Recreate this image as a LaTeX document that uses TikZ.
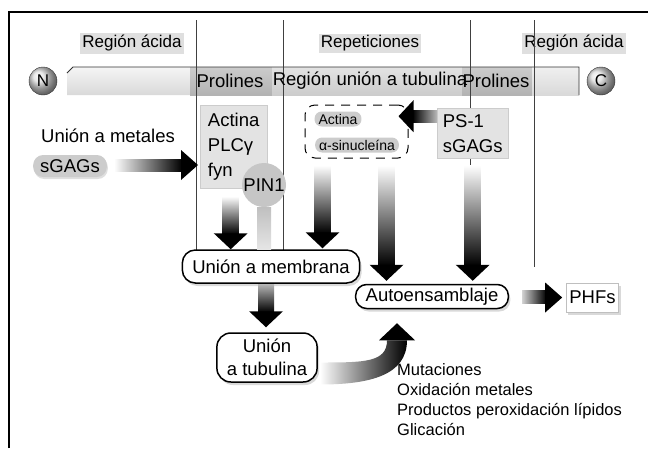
\documentclass[tikz,border=0pt]{standalone}
\usepackage{fontspec}
\setmainfont{Liberation Sans}
\usetikzlibrary{calc, shadows, positioning}

\newcommand{\fadedown}[3][white]{%
  \shade[top color=#1, bottom color=black] ($(#2)+(-8,0)$) rectangle ($(#3)+(8,-15)$);
  \fill[black] ($(#3)+(-17,-16)$) -- (#3) -- ($(#3)+(17,-16)$) -- cycle;}
\newcommand{\faderight}[3][white]{%
  \shade[left color=#1, right color=black] ($(#2)+(0,-6)$) rectangle ($(#3)+(-16,6)$);
  \fill[black] ($(#3)+(-17,-15)$) -- (#3) -- ($(#3)+(-17,15)$) -- cycle;}

\begin{document}
\begin{tikzpicture}[
    x=1pt, y=-1pt,
    font=\fontsize{18.5}{25}\selectfont,
    region/.style={fill=gray!25, inner sep=2pt, font=\fontsize{17}{20}\selectfont},
    barlabel/.style={inner sep=0pt},
    terminal/.style={circle, draw=gray!40!black, ball color=gray!25, minimum size=28pt, inner sep=0pt, font=\fontsize{17}{17}\selectfont},
    greybox/.style={fill=gray!22, draw=gray!40, align=left, anchor=north west, inner sep=4pt},
    pill/.style={fill=gray!40, rounded corners=10pt, inner xsep=7pt, inner ysep=1pt, minimum height=22pt, drop shadow={opacity=.25, shadow xshift=1pt, shadow yshift=-2pt}},
    smallpill/.style={fill=gray!40, rounded corners=7pt, inner xsep=4pt, inner ysep=0pt, minimum height=15pt, font=\fontsize{14}{14}\selectfont},
    dashbox/.style={draw, dash pattern=on 9pt off 7pt, rounded corners=10pt, line width=1pt},
    roundbox/.style={draw, fill=white, line width=1.5pt, rounded corners=13pt, inner xsep=10pt, drop shadow={opacity=.3, shadow xshift=2pt, shadow yshift=-3pt}},
    whitebox/.style={draw=gray!50, fill=white, inner sep=3pt, minimum height=29pt, drop shadow={opacity=.3, shadow xshift=2pt, shadow yshift=-3pt}},
    divider/.style={gray!50!black, line width=0.9pt},
    plaintext/.style={inner sep=0pt}
]
\useasboundingbox (0,0) rectangle (648,448);
\draw[line width=1.3pt] (9,448) -- (9,12) -- (648,12);

% barra de la proteina
\shade[top color=gray!8, bottom color=gray!30] (67,73) -- (73,67) -- (190,67) -- (190,95) -- (67,95) -- cycle;
\shade[top color=gray!40, bottom color=gray!60] (190,67) rectangle (272,95);
\shade[top color=gray!22, bottom color=gray!40] (272,67) rectangle (462,95);
\shade[top color=gray!40, bottom color=gray!60] (462,67) rectangle (532,95);
\shade[top color=gray!12, bottom color=gray!30] (532,67) rectangle (579,95);
\draw[gray!40!black, line width=0.8pt] (67,73) -- (73,67) -- (579,67) -- (579,95);

\node (acidaN) [region] at (132,43.5) {Región ácida};
\node (repet) [region] at (370,43.5) {Repeticiones};
\node (acidaC) [region] at (574,43.5) {Región ácida};

\draw[divider] (196,20) -- (196,250);
\draw[divider] (283,20) -- (283,250);
\draw[divider] (470,20) -- (470,165);
\draw[divider] (534,20) -- (534,267);

\node (prolN) [barlabel] at (230,81) {Prolines};
\node (tubreg) [barlabel] at (370,81) {Región unión a tubulina};
\node (prolC) [barlabel] at (496,81) {Prolines};
\node (nterm) [terminal] at (43,81) {N};
\node (cterm) [terminal] at (601,81) {C};

\node (metales) [plaintext] at (108,136) {Unión a metales};
\node (sgags) [pill] at (70,166) {sGAGs};
\node (actbox) [greybox, minimum width=67pt, minimum height=83pt] at (200,105) {Actina\\PLCγ\\fyn};
\node (pin) [circle, fill=gray!45, minimum size=44pt, inner sep=0pt] at (264,185) {PIN1};

\node (actina2) [smallpill] at (338,119) {Actina};
\node (sinu) [smallpill] at (357,145) {α-sinucleína};
\node (synbox) [dashbox, minimum width=103pt, minimum height=53pt] at (356.5,131.5) {};
\node (ps1) [greybox, minimum width=71pt, minimum height=50pt] at (437,108) {PS-1\\sGAGs};

\node (membrana) [roundbox, minimum height=33pt] at (271,266.5) {Unión a membrana};
\node (tubulina) [roundbox, align=center, minimum width=100pt, minimum height=49pt, rounded corners=14pt] at (267,357.5) {Unión\\[-2pt]a tubulina};
\node (autoens) [roundbox, minimum height=24pt, inner ysep=1pt, rounded corners=11pt] at (432,296.5) {Autoensamblaje};
\node (phfs) [whitebox] at (592.5,297.5) {PHFs};

\node (factores) [plaintext, anchor=north west, align=left, font=\fontsize{16.5}{20}\selectfont] at (397,363) {Mutaciones\\Oxidación metales\\Productos peroxidación lípidos\\Glicación};

% flechas
\coordinate (a0) at ($(sgags.east)+(7,-1)$);
\coordinate (b0) at ($(a0 -| actbox.west)+(-2,0)$);
\faderight{a0}{b0}

\coordinate (a1) at ($(actbox.south)+(-3,8)$);
\coordinate (b1) at (a1 |- membrana.north);
\fadedown{a1}{b1}

\shade[top color=gray!50, bottom color=gray!20] ($(pin.south)+(-7,0)$) rectangle ($(pin.south |- membrana.north)+(7,0)$);

\coordinate (a2) at ($(synbox.south)+(-34,7)$);
\coordinate (b2) at ($(a2 |- membrana.north)+(0,-1)$);
\fadedown{a2}{b2}

\coordinate (a3) at ($(synbox.south)+(30,7)$);
\coordinate (b3) at ($(a3 |- autoens.north)+(0,-3)$);
\fadedown{a3}{b3}

\coordinate (a4) at ($(ps1.south)+(0,7)$);
\coordinate (b4) at ($(a4 |- autoens.north)+(0,-3)$);
\fadedown{a4}{b4}

\coordinate (a5) at ($(membrana.south)+(-5,1)$);
\coordinate (b5) at ($(a5 |- tubulina.north)+(0,-5)$);
\fadedown[gray!60]{a5}{b5}

\coordinate (a6) at ($(autoens.east)+(13,0)$);
\coordinate (b6) at ($(phfs.west)+(-4,0)$);
\faderight[gray!35]{a6}{b6}

\coordinate (a8) at ($(ps1.west)+(0,-17)$);
\coordinate (b8) at ($(synbox.east |- a8)+(-10,0)$);
\shade[left color=black, right color=gray!55] ($(b8)+(14,-6)$) rectangle ($(a8)+(0,6)$);
\fill[black] ($(b8)+(15,-16)$) -- (b8) -- ($(b8)+(15,16)$) -- cycle;

\coordinate (c0) at ($(tubulina.east)+(2,5)$);
\coordinate (c1) at ($(tubulina.east)+(2,27)$);
\coordinate (ctip) at ($(autoens.south)+(-35,14)$);
\shade[left color=white, right color=black] (c0) .. controls +(45,0) and +(0,22) .. ($(ctip)+(-10,17)$) -- ($(ctip)+(10,17)$) .. controls +(0,35) and +(50,0) .. (c1) -- cycle;
\fill[black] ($(ctip)+(-18,17)$) -- (ctip) -- ($(ctip)+(18,17)$) -- cycle;

\end{tikzpicture}
\end{document}
